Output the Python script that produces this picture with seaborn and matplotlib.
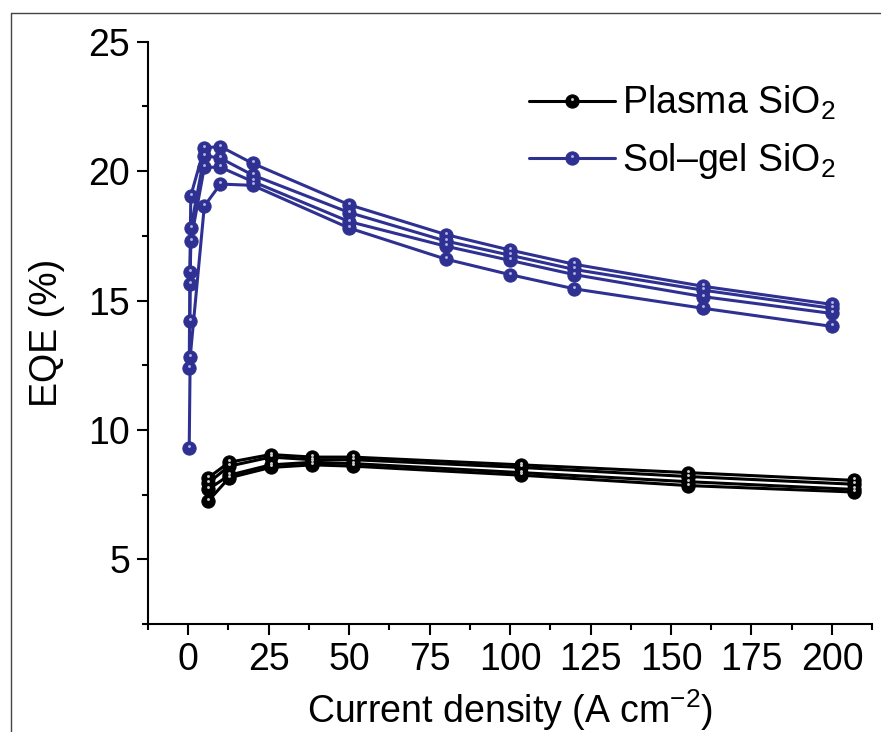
import numpy as np
import pandas as pd
import matplotlib
matplotlib.use("Agg")
import matplotlib.pyplot as plt
from matplotlib.lines import Line2D
from matplotlib.path import Path
import seaborn as sns

# --- DATA ---
plasma_x = [6.2, 12.7, 25.6, 38.6, 51.2, 103.5, 155.3, 207.0]
plasma_1 = [8.15, 8.75, 9.05, 8.95, 8.95, 8.65, 8.35, 8.05]
plasma_2 = [7.95, 8.60, 8.95, 8.85, 8.85, 8.55, 8.20, 7.90]
plasma_3 = [7.70, 8.25, 8.65, 8.75, 8.70, 8.35, 8.00, 7.70]
plasma_4 = [7.25, 8.15, 8.55, 8.65, 8.60, 8.25, 7.85, 7.60]

solgel_x_1 = [0.5, 0.8, 5, 10, 20, 50, 80, 100, 120, 160, 200]
solgel_1 = [16.1, 19.05, 20.9, 20.95, 20.3, 18.7, 17.55, 16.95, 16.4, 15.55, 14.85]
solgel_x_2 = [0.5, 0.8, 5, 10, 20, 50, 80, 100, 120, 160, 200]
solgel_2 = [14.2, 17.8, 20.6, 20.5, 19.85, 18.4, 17.3, 16.75, 16.2, 15.4, 14.7]
solgel_x_3 = [0.3, 0.5, 0.8, 5, 10, 20, 50, 80, 100, 120, 160, 200]
solgel_3 = [12.4, 15.65, 17.3, 20.15, 20.15, 19.6, 18.05, 17.1, 16.55, 16.0, 15.15, 14.5]
solgel_x_4 = [0.3, 0.6, 5, 10, 20, 50, 80, 100, 120, 160, 200]
solgel_4 = [9.3, 12.8, 18.65, 19.5, 19.45, 17.8, 16.6, 16.0, 15.45, 14.7, 14.0]

labels = ["Plasma SiO$_2$", "Sol\u2013gel SiO$_2$"]
colors = ["#000000", "#2E3192"]
highlights = ["#cfcfcf", "#b4b4e6"]

# long-form table for seaborn
rows = []
for i, (xs, ys) in enumerate([(plasma_x, plasma_1), (plasma_x, plasma_2),
                              (plasma_x, plasma_3), (plasma_x, plasma_4)]):
    rows += [dict(x=a, eqe=b, curve=f"p{i}", sample=labels[0]) for a, b in zip(xs, ys)]
for i, (xs, ys) in enumerate([(solgel_x_1, solgel_1), (solgel_x_2, solgel_2),
                              (solgel_x_3, solgel_3), (solgel_x_4, solgel_4)]):
    rows += [dict(x=a, eqe=b, curve=f"s{i}", sample=labels[1]) for a, b in zip(xs, ys)]
df = pd.DataFrame(rows)

# small off-centre highlight so the markers look like little balls
circ = Path.circle(center=(0, 0.3), radius=0.22)
hl_marker = Path(np.vstack([circ.vertices, [[0, -1.0]]]),
                 np.concatenate([circ.codes, [Path.MOVETO]]))

sns.set_style("ticks")
plt.rcParams["font.family"] = ["Liberation Sans", "DejaVu Sans"]
plt.rcParams["mathtext.fontset"] = "custom"
plt.rcParams["mathtext.rm"] = "Liberation Sans"
plt.rcParams["mathtext.it"] = "Liberation Sans:italic"
for key in ["text.color", "axes.labelcolor", "xtick.color", "ytick.color", "axes.edgecolor"]:
    plt.rcParams[key] = "black"
FS = 27
LW = 2.2
MS = 9.5

fig = plt.figure(figsize=(8.81, 7.32), dpi=100)
ax = fig.add_axes([0.168, 0.1475, 0.822, 0.7955])

for lab, col, hl in zip(labels, colors, highlights):
    sub = df[df["sample"] == lab]
    sns.lineplot(data=sub, x="x", y="eqe", units="curve", estimator=None, sort=False,
                 color=col, lw=LW, marker="o", markersize=MS, markeredgecolor=col,
                 markeredgewidth=0.8, ax=ax, legend=False)
    ax.plot(sub["x"], sub["eqe"], ls="none", marker=hl_marker, markersize=MS,
            markerfacecolor=hl, markeredgecolor=hl, markeredgewidth=0, zorder=5)

ax.set_xlim(-12.5, 212.5)
ax.set_ylim(2.6, 25)
ax.set_xticks(np.arange(0, 201, 25))
ax.set_yticks([5, 10, 15, 20, 25])
ax.set_xticks(np.arange(-12.5, 213, 25), minor=True)
ax.set_yticks(np.arange(2.5, 25, 5), minor=True)
ax.tick_params(which="major", length=8, width=1.5, labelsize=FS, pad=5, color="black")
ax.tick_params(which="minor", length=4.5, width=1.5, color="black")
for side in ["left", "bottom"]:
    ax.spines[side].set_linewidth(1.5)
sns.despine(ax=ax)

ax.set_xlabel("Current density (A cm$^{\u22122}$)", fontsize=FS, labelpad=7)
ax.set_ylabel("EQE (%)", fontsize=FS, labelpad=17)

handles = []
for col, hl in zip(colors, highlights):
    h1 = Line2D([], [], color=col, lw=LW, marker="o", markersize=MS,
                markeredgecolor=col, markeredgewidth=0.8)
    h2 = Line2D([], [], ls="none", marker=hl_marker, markersize=MS,
                markerfacecolor=hl, markeredgecolor=hl, markeredgewidth=0)
    handles.append((h1, h2))
fig.legend(handles, labels, loc="upper left", bbox_to_anchor=(0.600, 0.885),
           frameon=False, fontsize=FS, handlelength=2.3, handletextpad=0.2,
           labelspacing=0.5, borderpad=0, borderaxespad=0, numpoints=1)

# thin frame visible at the top/left edges of the reference
fig.add_artist(Line2D([10.7 / 881, 10.7 / 881], [1 - 12.7 / 732, 0], color="#444444",
                      lw=1.0, transform=fig.transFigure))
fig.add_artist(Line2D([10.7 / 881, 1], [1 - 12.7 / 732, 1 - 12.7 / 732], color="#444444",
                      lw=1.0, transform=fig.transFigure))

fig.savefig("out.png", dpi=100)
